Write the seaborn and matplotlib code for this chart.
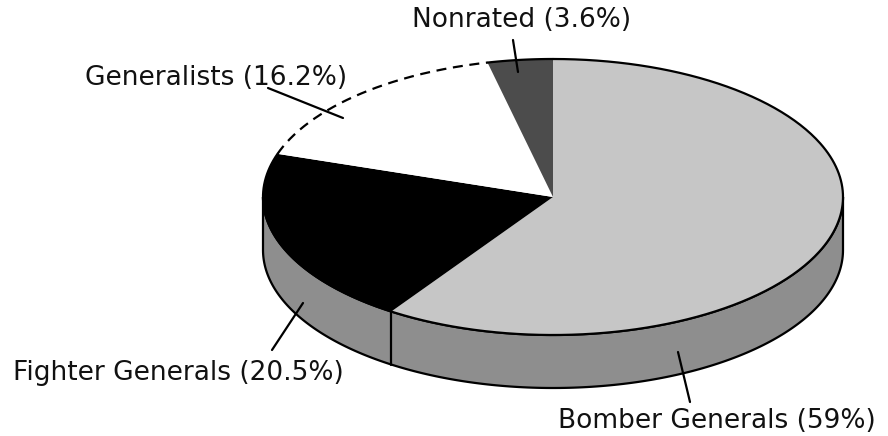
import numpy as np
import matplotlib
matplotlib.use("Agg")
import matplotlib.pyplot as plt
from matplotlib.lines import Line2D
import seaborn as sns

# data
categorias = ["Bomber Generals", "Fighter Generals", "Generalists", "Nonrated"]
porcentajes = [59, 20.5, 16.2, 3.6]
etiquetas = ["Bomber Generals (59%)", "Fighter Generals (20.5%)",
             "Generalists (16.2%)", "Nonrated (3.6%)"]
colores = ["#c6c6c6", "#000000", "#ffffff", "#4c4c4c"]

sns.set_style("white")
plt.rcParams["font.family"] = ["DejaVu Sans"]

W, H = 888, 436
CX, CY, RX, RY, PROF = 553, 197, 290, 138, 53   # pie layout in pixels
d = PROF / RY

fig = plt.figure(figsize=(W / 100, H / 100), dpi=100)
ax = fig.add_axes([0, 0, 1, 1])

# side of the pie (front half)
t = np.radians(np.linspace(180, 360, 200))
xs = np.concatenate([np.cos(t), np.cos(t[::-1])])
ys = np.concatenate([np.sin(t), np.sin(t[::-1]) - d])
ax.fill(xs, ys, color="#8e8e8e", ec="black", lw=1.6, zorder=1)

ax.pie(porcentajes, colors=colores, startangle=90, counterclock=False,
       radius=1, wedgeprops=dict(linewidth=0), frame=False)
for w in ax.patches[1:]:
    w.set_zorder(2)

# angles of slice boundaries
total = sum(porcentajes)
limites = 90 - 360 * np.cumsum([0] + porcentajes) / total

# divider on the side (bomber / fighter)
a = np.radians(limites[1])
if np.sin(a) < 0:
    ax.plot([np.cos(a), np.cos(a)], [np.sin(a), np.sin(a) - d], color="black", lw=1.6, zorder=3)

# outline of the top face: solid except the generalists arc, which is dashed
tg = np.radians(np.linspace(limites[3], limites[4], 30))
ax.plot(np.cos(tg), np.sin(tg), color="black", lw=1.6, zorder=3)
tg = np.radians(np.linspace(limites[2], limites[3], 150))
ax.plot(np.cos(tg), np.sin(tg), color="black", lw=1.6, ls=(0, (4.5, 3)), zorder=3)
tb = np.radians(np.linspace(limites[0], limites[2], 400))
ax.plot(np.cos(tb), np.sin(tb), color="black", lw=1.6, zorder=3)

ax.set_aspect("auto")
ax.set_xlim(-CX / RX, (W - CX) / RX)
ax.set_ylim(-(H - CY) / RY, CY / RY)
ax.axis("off")

# labels and leader lines (pixel positions)
pos_texto = {"Bomber Generals (59%)": (558, 428),
             "Fighter Generals (20.5%)": (13, 380),
             "Generalists (16.2%)": (85, 85),
             "Nonrated (3.6%)": (412, 27)}
guias = [((678, 352), (690, 402)),
         ((272, 350), (303, 303)),
         ((268, 88), (343, 118)),
         ((513, 40), (518, 72))]

for et in etiquetas:
    x, y = pos_texto[et]
    fig.text(x / W, 1 - y / H, et, fontsize=19, ha="left", va="baseline", color="#111111")

for (x1, y1), (x2, y2) in guias:
    fig.add_artist(Line2D([x1 / W, x2 / W], [1 - y1 / H, 1 - y2 / H],
                          transform=fig.transFigure, color="black", lw=1.6, zorder=5))

fig.savefig("out.png", dpi=100, facecolor="white")
